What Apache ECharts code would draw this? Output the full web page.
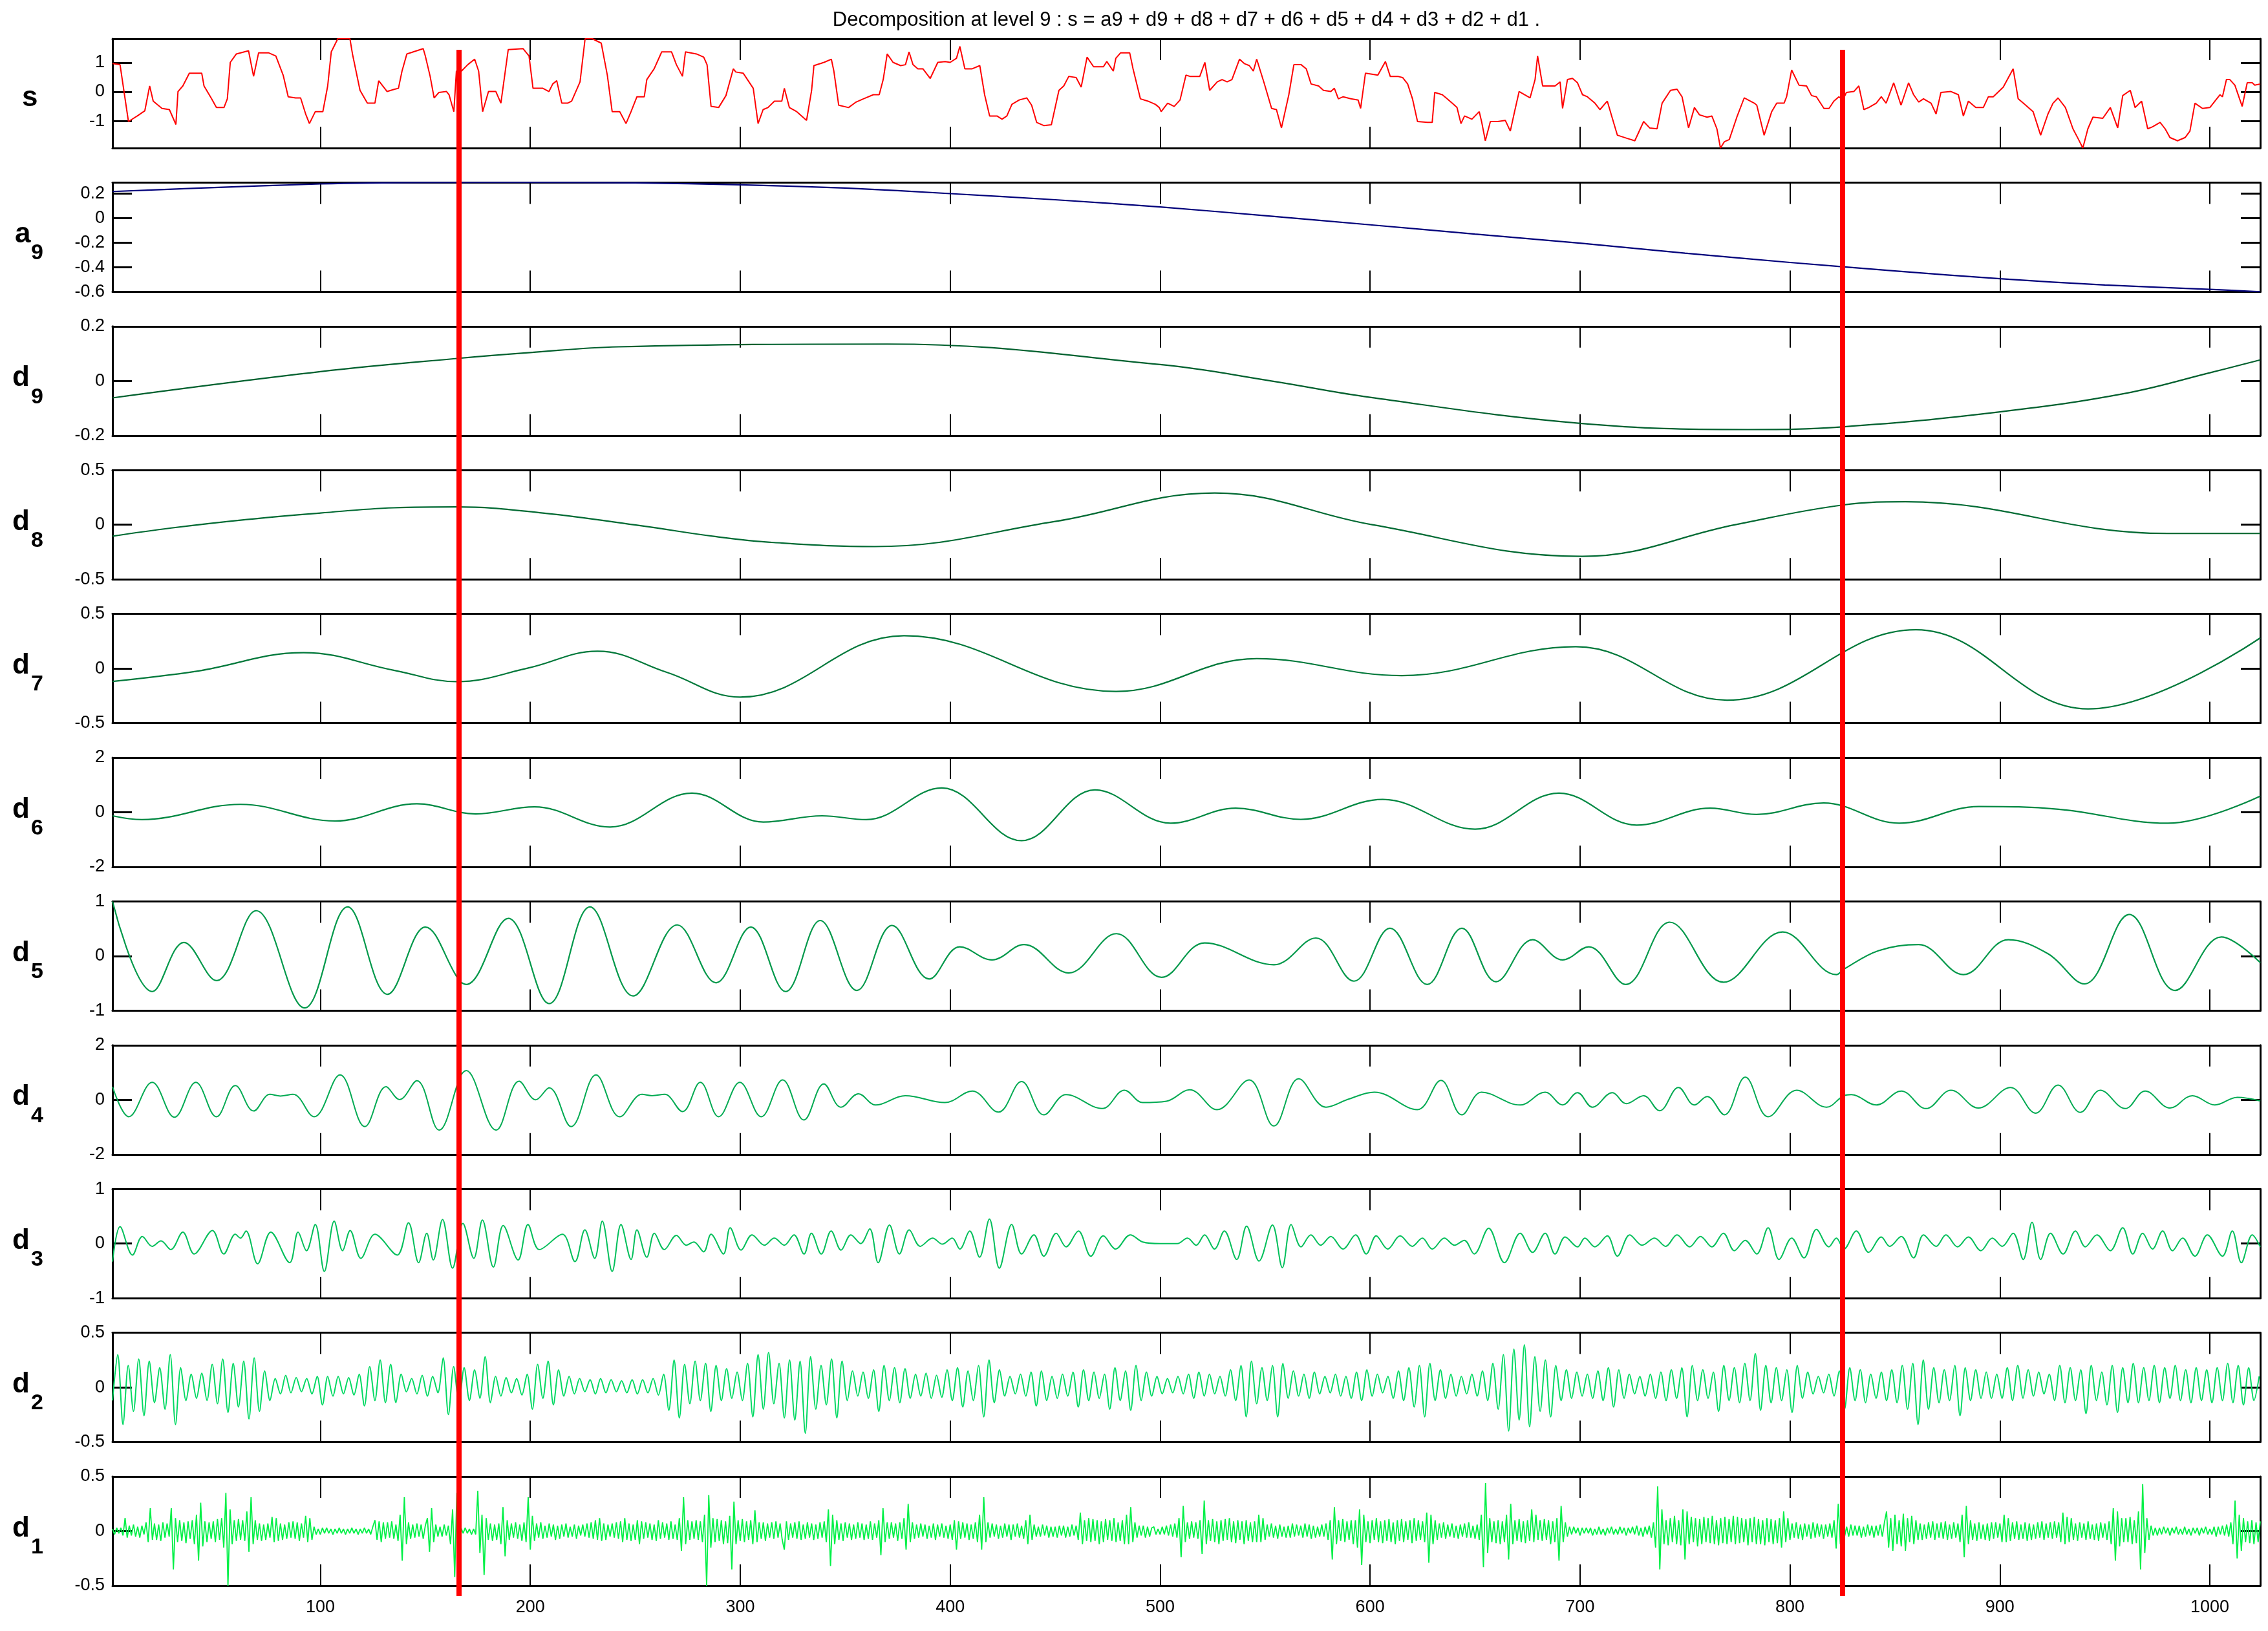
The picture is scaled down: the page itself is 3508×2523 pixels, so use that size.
<!DOCTYPE html>
<html><head><meta charset="utf-8">
<script src="https://cdn.jsdelivr.net/npm/echarts@6/dist/echarts.min.js"></script>
<style>html,body{margin:0;padding:0;background:#fff}#c{width:3508px;height:2523px}</style>
</head><body><div id="c"></div>
<script>
// ---------------- DATA ----------------
const titleText = 'Decomposition at level 9 : s = a9 + d9 + d8 + d7 + d6 + d5 + d4 + d3 + d2 + d1 .';
const xTicks = [100,200,300,400,500,600,700,800,900,1000];
const redLineX = [166, 825];

const sTicks = [-1,0,1];
const a9Ticks = [-0.6,-0.4,-0.2,0,0.2];
const d9Ticks = [-0.2,0,0.2];
const d8Ticks = [-0.5,0,0.5];
const d7Ticks = [-0.5,0,0.5];
const d6Ticks = [-2,0,2];
const d5Ticks = [-1,0,1];
const d4Ticks = [-2,0,2];
const d3Ticks = [-1,0,1];
const d2Ticks = [-0.5,0,0.5];
const d1Ticks = [-0.5,0,0.5];

const sPts = [[1,0.97],[4.6,0.93],[8.6,-1.02],[12.8,-0.83],[16.4,-0.65],[18.7,0.2],[20.4,-0.32],[24.6,-0.57],[28.1,-0.61],[31.2,-1.12],[32.2,0.01],[34.5,0.2],[37.6,0.64],[43.5,0.64],[44.6,0.2],[48.2,-0.24],[50.5,-0.54],[54.1,-0.54],[55.7,-0.24],[57.1,1.01],[60,1.3],[65.8,1.41],[68.2,0.53],[70.6,1.34],[75.3,1.34],[78.8,1.23],[82.3,0.57],[84.7,-0.17],[88.2,-0.21],[90.6,-0.21],[93,-0.76],[94.8,-1.09],[97.6,-0.68],[101.2,-0.68],[103.5,0.2],[105.2,1.37],[108.3,1.82],[114.1,1.82],[115.3,1.3],[118.9,0.05],[122.4,-0.39],[126,-0.39],[127.8,0.38],[130.2,0.16],[131.8,0.01],[135.4,0.09],[137.2,0.12],[138.9,0.71],[141.2,1.3],[149,1.48],[150,1.23],[152.3,0.53],[154.2,-0.21],[156.5,-0.02],[160.1,0.01],[161.3,-0.1],[163.6,-0.68],[164.8,0.71],[167.2,0.71],[170.2,0.93],[173.5,1.12],[175.4,0.71],[177.3,-0.68],[180.1,0.01],[183.6,0.01],[186,-0.39],[189.5,1.45],[196.6,1.48],[199.4,1.23],[201.3,0.12],[206,0.12],[208.9,0.01],[210.7,0.27],[212.6,0.38],[215,-0.39],[217.8,-0.39],[219.7,-0.32],[223.7,0.34],[226.1,1.82],[229.6,1.82],[233.8,1.67],[236.7,0.57],[239,-0.68],[242.6,-0.68],[245.6,-1.09],[248,-0.68],[250.8,-0.17],[254.3,-0.17],[255.5,0.42],[259,0.79],[262.6,1.37],[267.3,1.37],[269.6,0.93],[272.5,0.53],[273.9,1.37],[279.1,1.3],[282.6,1.19],[284.2,0.93],[286.1,-0.5],[289.7,-0.54],[293.2,-0.13],[296.7,0.79],[297.9,0.68],[301.4,0.64],[306.2,0.12],[308.5,-1.09],[310.9,-0.61],[313.2,-0.54],[316.3,-0.32],
[319.8,-0.32],[321,0.12],[323.4,-0.54],[326.9,-0.68],[331.6,-0.98],[334,0.05],[335.1,0.9],[339.9,1.01],[343.4,1.12],[344.6,0.71],[346.9,-0.46],[351.6,-0.54],[355.2,-0.35],[358.7,-0.24],[363.4,-0.1],[366.2,-0.1],[368.1,0.42],[370,1.3],[372.8,1.01],[376.4,0.9],[378.7,0.93],[380.4,1.37],[382.3,0.93],[384.6,0.79],[387,0.79],[390.5,0.46],[394.1,1.01],[397.6,1.04],[400,1.01],[403,1.15],[404.6,1.56],[407,0.79],[410.5,0.79],[414.1,0.9],[416.4,-0.1],[418.8,-0.83],[422.3,-0.83],[424.7,-0.94],[427,-0.83],[429.4,-0.43],[432.9,-0.28],[436.5,-0.21],[438.8,-0.46],[441.2,-1.05],[444.7,-1.16],[448.2,-1.13],[451.8,0.05],[454.1,0.2],[456.5,0.53],[460,0.49],[462.4,0.16],[465.2,1.19],[468.3,0.86],[473,0.86],[474.6,1.04],[477.7,0.71],[478.9,1.15],[481.2,1.34],[485.5,1.34],[487.1,0.79],[490.6,-0.24],[494.2,-0.32],[497.7,-0.43],[499.6,-0.54],[500.5,-0.68],[503.6,-0.39],[506.7,-0.5],[509.5,-0.28],[512.3,0.57],[514.2,0.53],[518.9,0.53],[521.3,1.01],[523.6,0.05],[527.2,0.34],[529.5,0.42],[531.9,0.34],[534.2,0.42],[537.8,1.12],[540.1,0.97],[542.5,0.9],[544.4,0.71],[546,1.12],[549.5,0.31],[553.1,-0.57],[555.4,-0.61],[557.8,-1.24],[561.3,-0.1],[563.7,0.93],[567.2,0.93],[569.6,0.79],[571.9,0.27],[575.5,0.2],[577.8,0.05],[581.3,0.01],[583,0.12],[584.9,-0.24],[587.2,-0.17],[590.8,-0.24],[594.3,-0.28],[595.5,-0.57],[597.8,0.64],[601.4,0.6],[603.7,0.57],[607.3,1.04],[609.6,0.53],[613.2,0.53],[615.5,0.49],[617.9,0.27],[620.2,-0.24],[622.6,-1.02],[627.3,-1.05],[629.6,-1.05],[630.8,-0.02],[634.4,-0.1],[636.7,-0.24],[639.1,-0.39],[641.4,-0.54],[643.3,-1.09],[645,-0.83],[648.5,-0.94],[652,-0.68],[653.2,-1.05],
[654.9,-1.68],[657.3,-1.02],[660.8,-1.02],[664.4,-0.98],[666.8,-1.35],[668.7,-0.72],[671,0.01],[676.2,-0.21],[678.6,0.42],[679.8,1.23],[682.2,0.2],[688.1,0.2],[690.5,0.34],[691.7,-0.57],[694,0.42],[696.4,0.46],[698.8,0.31],[701.2,-0.1],[703.5,-0.17],[707.1,-0.39],[709.5,-0.61],[713,-0.32],[715.4,-0.91],[717.8,-1.49],[722.5,-1.6],[726.1,-1.68],[730.3,-1.02],[733.2,-1.24],[736.7,-1.27],[739.1,-0.39],[743.1,0.05],[746.2,0.09],[748.6,-0.17],[751.7,-1.24],[754.5,-0.54],[756.9,-0.79],[760.5,-0.87],[762.8,-0.83],[765.2,-1.27],[766.9,-1.93],[768.8,-1.71],[771.1,-1.64],[774.7,-0.87],[778.2,-0.21],[783,-0.39],[784.2,-0.46],[787.7,-1.49],[791.3,-0.68],[793.7,-0.39],[797.2,-0.39],[798.4,-0.17],[800.8,0.75],[804.3,0.23],[807.9,0.2],[810.3,-0.13],[812.6,-0.17],[816.2,-0.57],[818.6,-0.57],[820.9,-0.32],[823.3,-0.17],[825.2,-0.28],[826.9,-0.02],[830.4,0.01],[832.8,0.2],[835.2,-0.61],[837.5,-0.54],[841.1,-0.39],[843.5,-0.17],[845.8,-0.39],[849.4,0.31],[852.9,-0.46],[856.5,0.31],[858.9,-0.1],[861.3,-0.35],[863.6,-0.24],[867.2,-0.39],[869.6,-0.76],[871.9,-0.02],[876.7,0.01],[880.2,-0.1],[882.6,-0.83],[885,-0.32],[888.5,-0.54],[892.1,-0.54],[894.5,-0.17],[896.8,-0.17],[901.6,0.16],[906.3,0.79],[908.7,-0.24],[912.3,-0.46],[915.8,-0.68],[919.4,-1.49],[922.9,-0.76],[925.3,-0.39],[927.7,-0.21],[931.2,-0.54],[934.8,-1.27],[937.2,-1.6],[939.5,-1.93],[941.9,-1.27],[944.3,-0.87],[949,-0.91],[952.6,-0.54],[956.1,-1.24],[958.5,-0.13],[962.1,0.05],[964.4,-0.54],[967.5,-0.32],[970.4,-1.27],[972.7,-1.2],[976.3,-1.05],[978.7,-1.27],[981,-1.57],[984.6,-1.68],[988.2,-1.57],[990.5,-1.35],[992.9,-0.39],[996.5,-0.57],[1000,-0.54],[1004.8,-0.1],[1006,-0.17],[1007.9,0.42],[1009.5,0.42],[1011.9,0.23],[1015.4,-0.5],[1017.8,0.31],[1020.2,0.31],[1021.4,0.23],[1024,0.27]];

const a9Pts = [[1,0.217],[41,0.244],[100,0.279],[150,0.29],[200,0.291],[250,0.288],[300,0.272],[350,0.245],[400,0.2],[450,0.15],[500,0.091],[550,0.02],[600,-0.054],[650,-0.13],[700,-0.204],[750,-0.285],[800,-0.361],[850,-0.43],[900,-0.493],[950,-0.545],[1000,-0.58],[1024,-0.6]];

const d9Pts = [[1,-0.062],[100,0.034],[166,0.083],[200,0.104],[242,0.125],[370,0.135],[500,0.06],[553,0.0],[600,-0.06],[700,-0.155],[780,-0.178],[825,-0.168],[900,-0.113],[960,-0.045],[1000,0.03],[1024,0.077]];

const d8Pts = [[1,-0.105],[29,-0.03],[65,0.048],[100,0.107],[135,0.155],[165,0.163],[206,0.107],[253,-0.01],[288,-0.108],[316,-0.163],[364,-0.2],[450,0.03],[526,0.29],[601,0.0],[701,-0.29],[774,0.0],[825,0.18],[855,0.21],[980,-0.08],[1024,-0.08]];

const d7Pts = [[1,-0.118],[41,-0.025],[92,0.145],[135,-0.016],[165,-0.12],[199,0.004],[232,0.158],[265,-0.035],[300,-0.262],[378,0.3],[479,-0.21],[546,0.09],[615,-0.065],[698,0.2],[770,-0.29],[860,0.355],[942,-0.37],[1024,0.28]];

const d6Pts = [[1,-0.13],[15,-0.27],[62,0.29],[107,-0.32],[146,0.31],[174,-0.06],[202,0.2],[238,-0.54],[277,0.7],[311,-0.36],[339,-0.13],[360,-0.27],[396,0.89],[434,-1.04],[469,0.82],[505,-0.4],[536,0.15],[567,-0.26],[606,0.47],[650,-0.62],[690,0.7],[727,-0.47],[762,0.15],[784,-0.08],[816,0.34],[852,-0.4],[890,0.21],[928,0.11],[980,-0.4],[1024,0.59]];

const d5Pts = [[1,1.0],[20,-0.65],[35,0.25],[50.5,-0.45],[69.4,0.83],[92.5,-0.95],[113,0.9],[132,-0.7],[150,0.53],[166,-0.44],[169.5,-0.52],[189.5,0.69],[209,-0.87],[228.4,0.9],[249,-0.73],[270,0.57],[288.5,-0.49],[305,0.53],[321.6,-0.65],[338.1,0.65],[355.6,-0.63],[372.3,0.56],[390,-0.42],[404.6,0.17],[419.9,-0.07],[435.2,0.21],[456.4,-0.31],[479.2,0.41],[500.7,-0.39],[521.2,0.24],[554.2,-0.16],[574.2,0.33],[592.3,-0.46],[609.5,0.51],[627.2,-0.52],[643.7,0.51],[660,-0.47],[677.4,0.3],[691.7,-0.07],[704.2,0.17],[721.8,-0.52],[742.7,0.62],[768.3,-0.48],[796.5,0.44],[822.1,-0.34],[825.7,-0.24],[842.3,0.1],[861.3,0.21],[882.6,-0.34],[904,0.3],[923,0.04],[940.2,-0.51],[961.6,0.76],[983.4,-0.63],[1005.5,0.35],[1024,-0.12]];

const d4Pts = [[1,0.48],[8.8,-0.62],[19.9,0.64],[30.5,-0.64],[40.7,0.64],[50.5,-0.62],[59.5,0.52],[68.2,-0.41],[76,0.2],[81,0.14],[87,0.2],[97,-0.62],[109.4,0.91],[121.2,-0.98],[131.3,0.48],[137.7,0.01],[146,0.7],[156.6,-1.11],[169.5,1.07],[183.7,-1.11],[194.7,0.68],[202.6,0.0],[209,0.44],[219.5,-0.98],[231.3,0.91],[242.6,-0.62],[253.2,0.2],[258,0.15],[264,0.2],[272.5,-0.43],[281,0.64],[289.7,-0.62],[299.8,0.64],[310,-0.62],[320.2,0.73],[330.3,-0.74],[339.8,0.58],[348,-0.27],[356.3,0.22],[364.5,-0.19],[378.6,0.15],[397.5,-0.1],[410.5,0.32],[423,-0.45],[434,0.67],[444.6,-0.55],[455.2,0.19],[472.4,-0.32],[483,0.35],[491.7,-0.1],[503,-0.05],[514.1,0.37],[527.1,-0.36],[542.4,0.73],[554.2,-0.96],[566,0.77],[579,-0.27],[590,0.03],[602,0.28],[622.5,-0.36],[633.8,0.71],[643.7,-0.55],[653.1,0.28],[671.5,-0.19],[683.4,0.28],[691.7,-0.19],[698.8,0.26],[705.9,-0.27],[715.4,0.26],[722,-0.14],[730.3,0.15],[737.9,-0.4],[746.9,0.45],[754.5,-0.19],[760.5,0.12],[768.8,-0.55],[778.7,0.83],[789.6,-0.62],[803.2,0.35],[817.4,-0.27],[825.7,0.15],[829.2,0.19],[841.1,-0.19],[853,0.32],[864.8,-0.32],[876.7,0.35],[889.7,-0.3],[905.1,0.45],[917,-0.49],[927.7,0.54],[938.3,-0.46],[947.8,0.35],[959.7,-0.32],[969.2,0.32],[981,-0.3],[991.7,0.15],[1002.4,-0.19],[1013.1,0.09],[1024,-0.04]];

const d3Pts = [[1,-0.33],[4.6,0.31],[10.5,-0.21],[15.2,0.13],[19.9,-0.05],[24.1,0.05],[28.8,-0.11],[34.5,0.21],[39.9,-0.19],[48.6,0.24],[54,-0.19],[59.5,0.17],[62,0.1],[64.6,0.23],[70.1,-0.37],[76.4,0.21],[85.4,-0.35],[89.4,0.21],[93.4,-0.13],[97.6,0.35],[101.9,-0.51],[106.6,0.41],[110.6,-0.13],[114.2,0.24],[119.3,-0.27],[126,0.17],[136.6,-0.21],[142,0.38],[146.8,-0.35],[150.7,0.19],[153.8,-0.3],[158.2,0.44],[163,-0.45],[167.9,0.37],[173.1,-0.27],[177.2,0.43],[182.4,-0.43],[187.1,0.33],[194.2,-0.3],[198.9,0.35],[204.3,-0.11],[215.3,0.17],[221.3,-0.33],[226,0.25],[230.7,-0.27],[234.3,0.41],[239,-0.51],[243.2,0.35],[248,-0.29],[250.8,0.25],[255.5,-0.25],[259.1,0.19],[263.8,-0.11],[269.6,0.15],[274.3,-0.03],[277.9,0.03],[282.6,-0.15],[286.1,0.17],[292,-0.19],[295.2,0.29],[300.4,-0.12],
[305.6,0.16],[311.5,-0.03],[316.2,0.1],[321,-0.03],[325.6,0.16],[330.4,-0.19],[333.9,0.19],[338.6,-0.19],[343.3,0.23],[348,-0.12],[352.7,0.16],[357.4,0.0],[361.7,0.27],[365.7,-0.35],[371.1,0.34],[375.8,-0.19],[380.5,0.25],[385.7,-0.05],[391.6,0.1],[396.3,-0.01],[401,0.1],[404.6,-0.1],[409.3,0.23],[414,-0.25],[418.7,0.45],[423.4,-0.45],[429.3,0.35],[434,-0.19],[439.9,0.16],[444.6,-0.23],[450.5,0.19],[455.2,-0.06],[461.1,0.23],[467,-0.23],[472.9,0.14],[478.8,-0.1],[485.8,0.16],[491.7,0.03],[500,0.0],[508.2,0.0],[513,0.1],[517.2,-0.03],[521.2,0.16],[525.9,-0.1],[530.6,0.23],[536.5,-0.29],[541.2,0.32],[547.1,-0.32],[553.5,0.34],[558.2,-0.44],[562.4,0.35],[567.1,-0.06],[571.8,0.16],[576.5,-0.03],[581.3,0.13],[587.1,-0.1],[593.1,0.16],[598.2,-0.19],[602.9,0.14],[608.4,-0.1],[614.3,0.14],[620.1,-0.05],[624.9,0.1],[629.6,-0.1],[635.4,0.1],[640.2,-0.03],[644.9,0.06],[649.6,-0.19],
[656.5,0.28],[664,-0.35],[671.5,0.19],[677.4,-0.16],[683.4,0.19],[688.1,-0.19],[692.9,0.12],[698.8,-0.06],[702.3,0.1],[707.1,-0.06],[713,0.14],[717.8,-0.23],[723.7,0.16],[729.6,-0.03],[735.5,0.1],[740.8,-0.05],[746.2,0.16],[752.2,-0.06],[757.4,0.13],[762.8,-0.06],[768.3,0.19],[773.5,-0.13],[778.7,0.06],[784.2,-0.19],[789.6,0.29],[794.8,-0.29],[800.8,0.1],[806.7,-0.26],[812.6,0.26],[818.5,-0.06],[822.1,0.1],[825.7,-0.1],[831.6,0.23],[837.5,-0.16],[843.5,0.12],[847.5,-0.05],[853,0.13],[858.9,-0.26],[863.6,0.16],[869.6,-0.05],[874.3,0.16],[879.8,-0.06],[885,0.12],[890.9,-0.13],[896.4,0.1],[901.1,-0.05],[906.3,0.19],[911.1,-0.29],[915.3,0.39],[919.4,-0.29],[924.1,0.19],[930.1,-0.19],[936,0.23],[940.7,-0.06],[946.2,0.16],[952.6,-0.13],[958.5,0.29],[963.3,-0.19],[968,0.19],[972.7,-0.1],[977.5,0.23],[982.2,-0.13],[987,0.1],[992.9,-0.23],[998.8,0.16],[1006,-0.23],[1010.7,0.23],[1015,-0.35],[1020.2,0.16],[1024,-0.06]];

// d2: successive extrema, one every 2.5 samples starting at sample 1
const d2Step = 2.5;
const d2Vals = [
-.12,.3,-.34,.2,-.22,.26,-.26,.24,-.14,.18,
-.2,.3,-.34,.18,-.12,.12,-.1,.13,-.12,.21,
-.15,.26,-.23,.22,-.18,.24,-.29,.27,-.22,.15,
-.12,.08,-.06,.11,-.05,.09,-.04,.08,-.06,.1,
-.16,.1,-.08,.1,-.06,.09,-.07,.12,-.17,.19,
-.12,.25,-.14,.21,-.14,.12,-.04,.08,-.06,.11,
-.08,.1,-.05,.27,-.25,.19,-.14,.18,-.12,.16,
-.1,.28,-.14,.1,-.08,.09,-.05,.08,-.07,.12,
-.2,.21,-.1,.24,-.16,.16,-.08,.1,-.06,.08,
-.04,.07,-.06,.08,-.05,.07,-.04,.06,-.05,.07,
-.06,.07,-.05,.08,-.07,.12,-.21,.25,-.28,.21,
-.15,.24,-.12,.22,-.22,.2,-.12,.17,-.1,.14,
-.12,.22,-.27,.3,-.2,.32,-.15,.22,-.28,.25,
-.3,.24,-.42,.28,-.2,.2,-.16,.26,-.28,.24,
-.12,.15,-.08,.14,-.1,.16,-.22,.2,-.12,.18,
-.14,.17,-.1,.12,-.08,.13,-.1,.11,-.09,.16,
-.12,.18,-.18,.15,-.12,.2,-.27,.25,-.14,.16,
-.08,.1,-.06,.12,-.08,.14,-.17,.15,-.12,.1,
-.1,.12,-.08,.14,-.18,.16,-.12,.14,-.1,.12,
-.2,.18,-.12,.15,-.21,.2,-.12,.14,-.08,.1,
-.06,.08,-.05,.1,-.06,.12,-.1,.14,-.08,.12,
-.06,.1,-.08,.16,-.12,.2,-.27,.24,-.15,.18,
-.12,.2,-.27,.22,-.1,.15,-.08,.12,-.1,.14,
-.06,.1,-.05,.12,-.08,.1,-.1,.14,-.12,.16,
-.08,.12,-.05,.1,-.1,.15,-.12,.18,-.18,.2,
-.27,.22,-.12,.16,-.1,.12,-.08,.1,-.06,.12,
-.08,.15,-.12,.22,-.2,.3,-.4,.35,-.3,.39,
-.36,.28,-.22,.25,-.27,.2,-.12,.16,-.1,.14,
-.08,.12,-.1,.15,-.12,.18,-.18,.16,-.1,.12,
-.06,.1,-.08,.12,-.1,.14,-.12,.16,-.1,.18,
-.27,.2,-.12,.16,-.1,.14,-.22,.2,-.12,.18,
-.14,.22,-.12,.31,-.21,.2,-.14,.18,-.12,.16,
-.23,.2,-.1,.14,-.06,.1,-.05,.12,-.08,.15,
-.2,.18,-.12,.16,-.14,.12,-.1,.14,-.12,.16,
-.14,.2,-.2,.22,-.34,.25,-.2,.18,-.14,.16,
-.12,.2,-.26,.18,-.12,.16,-.1,.14,-.1,.12,
-.1,.18,-.12,.2,-.1,.16,-.08,.14,-.06,.12,
-.12,.2,-.14,.18,-.12,.16,-.24,.2,-.12,.14,
-.16,.2,-.23,.18,-.14,.22,-.14,.18,-.12,.2,
-.14,.18,-.1,.2,-.12,.16,-.14,.18,-.12,.16,
-.14,.18,-.12,.22,-.14,.2,-.16,.18,-.12,.1];

// d1: one value per sample, samples 1..1024
const d1Vals = [
.02,-.03,.03,-.02,.03,-.04,.12,-.06,.05,-.04,.06,-.05,.04,-.06,.05,-.03,
.08,-.1,.21,-.08,.07,-.08,.06,-.09,.08,-.06,.07,-.05,.21,-.35,.12,-.1,
.1,-.09,.08,-.11,.09,-.07,.1,-.12,.15,-.27,.26,-.14,.09,-.1,.08,-.07,
.09,-.1,.11,-.08,.12,-.15,.35,-.5,.2,-.12,.1,-.09,.11,-.08,.1,-.09,
.18,-.19,.31,-.12,.1,-.08,.07,-.09,.06,-.08,.07,-.06,.13,-.1,.12,-.09,
.07,-.08,.06,-.07,.08,-.06,.09,-.07,.08,-.09,.07,-.06,.14,-.1,.12,-.08,
.04,-.03,.02,-.03,.03,-.02,.03,-.02,.02,-.03,.02,-.02,.03,-.02,.02,-.03,
.02,-.02,.03,-.02,.02,-.03,.02,-.02,.03,-.02,.02,-.03,.04,.1,-.08,.09,
-.1,.08,-.07,.08,-.06,.09,-.07,.06,-.09,.15,-.27,.31,-.12,.08,-.07,.06,
-.06,.07,-.05,.06,-.07,.05,.12,-.19,.21,-.1,.06,-.05,.04,-.05,.06,-.04,
.05,-.12,.2,-.42,.35,-.15,.03,-.02,.03,-.02,.02,-.03,.02,-.03,.37,-.2,
.15,-.4,.12,-.08,.07,-.09,.06,-.08,.07,-.12,.22,-.23,.1,-.08,.07,-.06,
.08,-.07,.06,-.09,.08,-.1,.31,-.17,.14,-.09,.07,-.06,.08,-.07,.05,-.06,
.07,-.05,.06,-.08,.05,-.07,.06,-.05,.07,-.06,.04,-.05,.06,-.07,.05,-.04,
.06,-.05,.07,-.06,.08,-.07,.1,-.08,.12,-.09,.07,-.08,.06,-.05,.07,-.06,
.08,-.07,.09,-.1,.12,-.08,.07,-.09,.06,-.08,.1,-.12,.09,-.07,.08,-.06,
.07,-.08,.06,-.09,.1,-.07,.08,-.06,.07,-.08,.09,-.07,.06,-.08,.12,-.18,
.31,-.12,.1,-.08,.09,-.07,.1,-.08,.09,-.1,.15,-.5,.33,-.15,.12,-.1,
.11,-.09,.1,-.12,.09,-.11,.14,-.35,.27,-.12,.1,-.09,.11,-.1,.09,-.08,
.1,-.12,.19,-.1,.08,-.07,.08,-.09,.07,-.06,.08,-.07,.09,-.06,.07,-.08,
-.17,.09,-.08,.07,-.06,.08,-.07,.09,-.08,.06,-.07,.08,-.06,.07,-.08,.06,
-.07,.08,-.06,.09,-.1,.2,-.32,.15,-.12,.1,-.08,.07,-.09,.08,-.06,.07,
-.08,.06,-.07,.08,-.06,.07,-.08,.06,-.07,.09,-.08,.07,-.06,.1,-.22,.21,
-.1,.08,-.07,.08,-.06,.07,-.09,.08,-.07,.12,-.17,.25,-.1,.08,-.07,.06,
-.06,.07,-.05,.06,-.07,.05,-.06,.07,-.08,.06,-.05,.07,-.06,.05,-.07,.06,
-.08,.1,-.17,.09,-.07,.08,-.06,.07,-.08,.06,-.07,.08,-.1,.15,-.17,.31,
-.1,.08,-.06,.07,-.05,.06,-.07,.05,-.06,.07,-.05,.06,-.08,.06,-.05,.07,
-.06,.05,-.07,.1,-.12,.15,-.08,.06,-.05,.04,-.05,.06,-.04,.05,-.06,.04,
-.05,.04,-.06,.05,-.04,.05,-.06,.04,-.05,.06,-.04,.05,-.08,.17,-.12,.1,
-.09,.12,-.1,.11,-.09,.1,-.12,.09,-.1,.11,-.08,.1,-.09,.12,-.1,.08,
-.09,.1,-.12,.15,-.12,.22,-.1,.08,-.06,.05,-.04,.05,-.06,.04,-.05,.03,
.04,-.03,.02,-.03,.04,-.03,.05,-.04,.06,-.05,.07,-.06,.12,-.24,.23,-.1,
.08,-.07,.09,-.06,.08,-.07,.1,-.21,.28,-.12,.1,-.09,.11,-.1,.09,-.12,
.1,-.09,.11,-.08,.12,-.1,.09,-.11,.1,-.08,.09,-.12,.1,-.09,.08,-.1,
.09,-.1,.15,-.1,.12,-.08,.06,-.05,.07,-.06,.05,-.07,.06,-.05,.04,-.06,
.05,-.06,.07,-.05,.06,-.04,.05,-.06,.07,-.05,.06,-.07,.05,-.06,.04,-.05,
.06,-.05,.07,-.08,.1,-.26,.22,-.12,.1,-.09,.11,-.1,.09,-.08,.1,-.12,
.1,-.15,.2,-.31,.15,-.1,.09,-.11,.1,-.08,.12,-.1,.09,-.11,.1,-.09,
.11,-.1,.08,-.12,.1,-.09,.11,-.1,.09,-.08,.1,-.11,.12,-.09,.1,-.08,
.09,-.1,.17,-.29,.15,-.12,.1,-.08,.07,-.06,.08,-.07,.06,-.05,.07,-.06,
.05,-.07,.06,-.05,.07,-.06,.08,-.06,.05,-.07,.06,-.08,.15,-.33,.44,-.2,
.12,-.1,.09,-.11,.1,-.12,.09,-.1,.15,-.26,.25,-.12,.1,-.09,.11,-.1,
.09,-.11,.1,-.09,.2,-.1,.15,-.08,.1,-.09,.11,-.08,.1,-.12,.09,-.1,
.12,-.27,.23,-.1,.08,-.05,.04,-.03,.04,-.02,.03,-.04,.03,-.02,.03,-.02,
.03,-.04,.02,-.03,.04,-.03,.02,-.04,.03,-.02,.04,-.03,.02,-.03,.04,-.02,
.03,-.04,.03,-.02,.04,-.03,.05,-.04,.03,-.05,.04,-.03,.05,-.06,.08,-.15,
.41,-.35,.2,-.12,.1,-.13,.12,-.1,.14,-.12,.1,-.13,.2,-.26,.18,-.12,
.13,-.1,.12,-.14,.11,-.12,.13,-.1,.12,-.11,.14,-.12,.1,-.13,.12,-.11,
.13,-.12,.11,-.1,.14,-.12,.13,-.11,.12,-.1,.11,-.13,.12,-.1,.13,-.12,
.11,-.12,.1,-.13,.12,-.1,.11,-.12,.1,-.11,.12,-.15,.18,-.1,.12,-.08,
.07,-.06,.08,-.07,.06,-.08,.07,-.05,.06,-.07,.08,-.06,.07,-.05,.06,-.07,
.06,-.05,.07,-.06,.1,-.16,.25,-.12,.08,-.05,.04,-.05,.06,-.04,.05,-.04,
.05,-.06,.04,-.05,.06,-.04,.05,-.06,.05,-.04,.06,-.05,.08,.18,-.15,.12,
-.18,.15,-.12,.1,-.14,.16,-.18,.12,-.1,.14,-.12,.1,-.08,.07,-.08,.06,
-.07,.08,-.06,.09,-.08,.07,-.06,.08,-.07,.09,-.08,.06,-.07,.08,-.06,.07,
-.1,.15,-.24,.23,-.12,.1,-.08,.07,-.09,.08,-.07,.06,-.08,.07,-.09,.08,
-.07,.08,-.06,.07,-.1,.15,-.1,.12,-.09,.08,-.07,.09,-.08,.06,-.07,.08,
-.09,.07,-.08,.06,-.07,.08,-.06,.09,-.08,.07,-.06,.08,-.07,.09,-.06,.08,
-.1,.17,-.12,.13,-.1,.12,-.08,.07,-.09,.08,-.06,.07,-.08,.09,-.07,.06,
-.08,.07,-.09,.08,-.06,.07,-.08,.09,-.12,.21,-.27,.18,-.14,.12,-.1,.12,
-.1,.13,-.12,.1,-.11,.18,-.35,.43,-.2,.12,-.08,.05,-.04,.03,-.04,.03,
-.03,.04,-.02,.03,-.04,.03,-.02,.04,-.03,.02,-.03,.04,-.03,.02,-.04,.03,
-.02,.03,-.04,.03,-.02,.04,-.03,.02,-.03,.04,-.05,.04,-.03,.05,-.04,.06,
-.05,.08,-.12,.28,-.25,.15,-.18,.12,-.1,.09,-.11,.1,-.12,.08,-.1,.09];

// ---------------- CHART ----------------
const FONT = "'Liberation Sans', Arial, Helvetica, sans-serif";
const GL = 174, GW = 3322, TOP0 = 60, STEP = 222.4, GH = 169;

const panels = [
  {name:'s',  sub:'',  data:sPts,  min:-1.93, max:1.82, ticks:sTicks,  color:'#ff0000', smooth:false, width:2},
  {name:'a',  sub:'9', data:a9Pts, min:-0.6,  max:0.29, ticks:a9Ticks, color:'#00007a', smooth:0.3,  width:2.2},
  {name:'d',  sub:'9', data:d9Pts, min:-0.2,  max:0.2,  ticks:d9Ticks, color:'#00602e', smooth:0.4,  width:2.2},
  {name:'d',  sub:'8', data:d8Pts, min:-0.5,  max:0.5,  ticks:d8Ticks, color:'#006a33', smooth:0.4,  width:2.2},
  {name:'d',  sub:'7', data:d7Pts, min:-0.5,  max:0.5,  ticks:d7Ticks, color:'#00783a', smooth:0.4,  width:2.2},
  {name:'d',  sub:'6', data:d6Pts, min:-2,    max:2,    ticks:d6Ticks, color:'#008842', smooth:0.38, width:2.2},
  {name:'d',  sub:'5', data:d5Pts, min:-1,    max:1,    ticks:d5Ticks, color:'#00984a', smooth:0.38, width:2.2},
  {name:'d',  sub:'4', data:d4Pts, min:-2,    max:2,    ticks:d4Ticks, color:'#00aa52', smooth:0.38, width:2},
  {name:'d',  sub:'3', data:d3Pts, min:-1,    max:1,    ticks:d3Ticks, color:'#00bf5a', smooth:0.35, width:2},
  {name:'d',  sub:'2', data:d2Vals.map((v,i)=>[1+i*d2Step, v]), min:-0.5, max:0.5, ticks:d2Ticks, color:'#00d962', smooth:0.3, width:2},
  {name:'d',  sub:'1', data:d1Vals.map((v,i)=>[i+1, v]),       min:-0.5, max:0.5, ticks:d1Ticks, color:'#00f046', smooth:false, width:1.8}
];

const grid = [], xAxis = [], yAxis = [], series = [], graphic = [];
const black = '#000';
const plain = v => String(v);
panels.forEach((p, i) => {
  const top = TOP0 + STEP * i;
  const last = i === panels.length - 1;
  grid.push({left: GL, top: top, width: GW, height: GH, containLabel: false});
  const xBase = {gridIndex: i, type: 'value', min: 1, max: 1024, splitLine: {show: false},
    axisLine: {show: true, onZero: false, lineStyle: {color: black, width: 3}}};
  xAxis.push(Object.assign({}, xBase, {position: 'bottom',
    axisTick: {show: true, inside: true, length: 33, customValues: xTicks, lineStyle: {color: black, width: 2}},
    axisLabel: {show: last, customValues: xTicks, formatter: plain, margin: 20, fontSize: 27, color: black, fontFamily: FONT}}));
  xAxis.push(Object.assign({}, xBase, {position: 'top',
    axisTick: {show: true, inside: true, length: 33, customValues: xTicks, lineStyle: {color: black, width: 2}},
    axisLabel: {show: false}}));
  const yBase = {gridIndex: i, type: 'value', min: p.min, max: p.max, splitLine: {show: false},
    axisLine: {show: true, onZero: false, lineStyle: {color: black, width: 3}}};
  yAxis.push(Object.assign({}, yBase, {position: 'left',
    axisTick: {show: true, inside: true, length: 30, customValues: p.ticks, lineStyle: {color: black, width: 3}},
    axisLabel: {show: true, customValues: p.ticks, formatter: plain, margin: 12, fontSize: 27, color: black, fontFamily: FONT}}));
  yAxis.push(Object.assign({}, yBase, {position: 'right',
    axisTick: {show: true, inside: true, length: 30, customValues: p.ticks, lineStyle: {color: black, width: 3}},
    axisLabel: {show: false}}));
  series.push({type: 'line', xAxisIndex: 2 * i, yAxisIndex: 2 * i, data: p.data,
    showSymbol: false, symbol: 'none', smooth: p.smooth, animation: false, silent: true,
    lineStyle: {color: p.color, width: p.width}, z: 3});
  // panel labels
  const cy = top + GH / 2;
  const lx = p.name === 's' ? 34 : (p.name === 'a' ? 23 : 19);
  graphic.push({type: 'text', x: lx, y: cy + (p.name === 's' ? 7 : -4), z: 10,
    style: {text: p.name, fontSize: 44, fontWeight: 'bold', fontFamily: FONT, fill: black,
      align: 'left', verticalAlign: 'middle', textAlign: 'left', textVerticalAlign: 'middle'}});
  if (p.sub) {
    graphic.push({type: 'text', x: 48, y: cy + 25, z: 10,
      style: {text: p.sub, fontSize: 34, fontWeight: 'bold', fontFamily: FONT, fill: black,
        align: 'left', verticalAlign: 'middle', textAlign: 'left', textVerticalAlign: 'middle'}});
  }
});

// overlay grid for the two red vertical markers
const ov = panels.length;
grid.push({left: GL, top: 77, width: GW, height: 2392});
xAxis.push({gridIndex: ov, type: 'value', min: 1, max: 1024, show: false});
yAxis.push({gridIndex: ov, type: 'value', min: 0, max: 1, show: false});
series.push({type: 'line', xAxisIndex: 2 * ov, yAxisIndex: 2 * ov, data: [[1, 0.5]],
  symbol: 'none', lineStyle: {opacity: 0}, silent: true, animation: false, z: 20,
  markLine: {symbol: ['none', 'none'], silent: true, animation: false, label: {show: false},
    lineStyle: {color: '#ff0000', width: 8, type: 'solid', opacity: 1},
    data: redLineX.map(v => ({xAxis: v}))}});

graphic.push({type: 'text', x: 1835, y: 31, z: 10,
  style: {text: titleText, fontSize: 31, fontFamily: FONT, fill: black,
    align: 'center', verticalAlign: 'middle', textAlign: 'center', textVerticalAlign: 'middle'}});

const chart = echarts.init(document.getElementById('c'), null, {renderer: 'canvas', width: 3508, height: 2523});
chart.setOption({backgroundColor: '#ffffff', animation: false, grid, xAxis, yAxis, series, graphic});
</script></body></html>
